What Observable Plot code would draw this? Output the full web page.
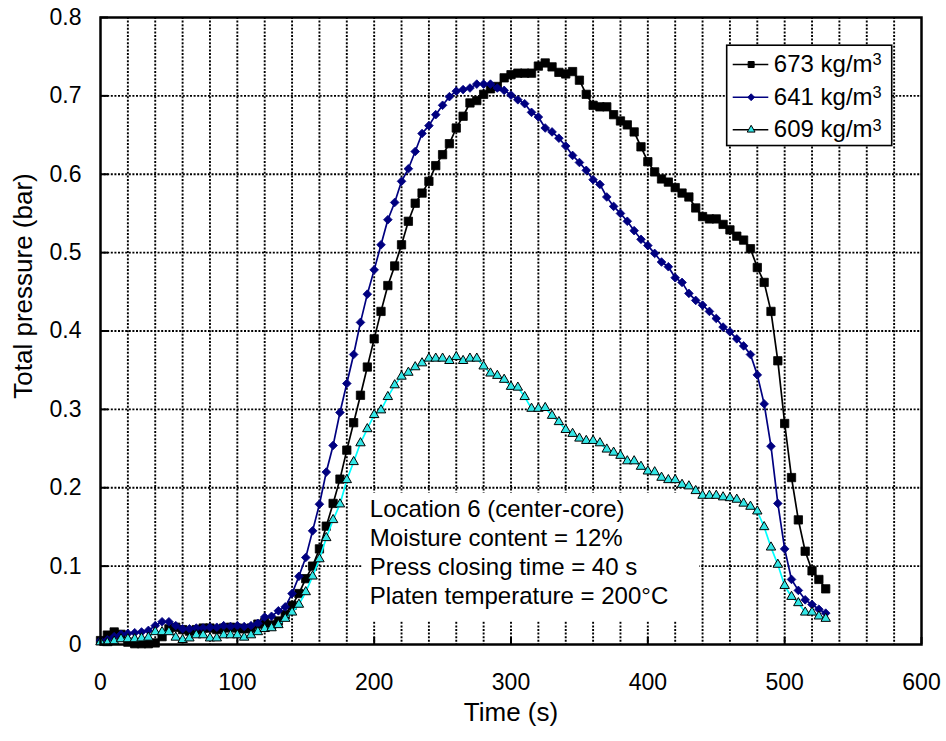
<!DOCTYPE html>
<html>
<head>
<meta charset="utf-8">
<script src="https://cdn.jsdelivr.net/npm/d3@7"></script>
<script src="https://cdn.jsdelivr.net/npm/@observablehq/plot@0.6"></script>
<style>
  html, body { margin: 0; padding: 0; background: #fff; }
  #chart svg { font-family: "Liberation Sans", Arial, sans-serif; display: block; }
</style>
</head>
<body>
<div id="chart"></div>
<script>
// ---- Data ----
const time = [
  0, 5, 10, 15, 20, 25, 30, 35, 40, 45, 50, 55, 60, 65, 70, 75, 80, 85, 90, 95,
  100, 105, 110, 115, 120, 125, 130, 135, 140, 145, 150, 155, 160, 165, 170, 175, 180, 185, 190, 195,
  200, 205, 210, 215, 220, 225, 230, 235, 240, 245, 250, 255, 260, 265, 270, 275, 280, 285, 290, 295,
  300, 305, 310, 315, 320, 325, 330, 335, 340, 345, 350, 355, 360, 365, 370, 375, 380, 385, 390, 395,
  400, 405, 410, 415, 420, 425, 430, 435, 440, 445, 450, 455, 460, 465, 470, 475, 480, 485, 490, 495,
  500, 505, 510, 515, 520, 525, 530
];

const p673 = [
  0.005, 0.012, 0.016, 0.013, 0.003, 0.001, 0.001, 0.001, 0.002, 0.010, 0.020, 0.022, 0.019, 0.017, 0.019, 0.021, 0.021, 0.019, 0.021, 0.022,
  0.021, 0.020, 0.021, 0.026, 0.028, 0.025, 0.030, 0.038, 0.050, 0.065, 0.084, 0.100, 0.122, 0.151, 0.180, 0.211, 0.248, 0.283, 0.318, 0.354,
  0.390, 0.425, 0.458, 0.483, 0.510, 0.540, 0.563, 0.576, 0.591, 0.611, 0.625, 0.639, 0.659, 0.674, 0.691, 0.694, 0.702, 0.709, 0.712, 0.723,
  0.727, 0.729, 0.729, 0.729, 0.738, 0.742, 0.737, 0.730, 0.728, 0.731, 0.720, 0.702, 0.688, 0.686, 0.686, 0.676, 0.668, 0.663, 0.654, 0.635,
  0.616, 0.603, 0.594, 0.590, 0.583, 0.576, 0.571, 0.557, 0.546, 0.543, 0.543, 0.536, 0.529, 0.521, 0.516, 0.505, 0.481, 0.462, 0.425, 0.362,
  0.282, 0.213, 0.159, 0.119, 0.094, 0.083, 0.071
];

const p641 = [
  0.005, 0.006, 0.010, 0.013, 0.014, 0.015, 0.016, 0.018, 0.024, 0.029, 0.029, 0.024, 0.020, 0.020, 0.021, 0.021, 0.022, 0.022, 0.024, 0.023,
  0.024, 0.023, 0.024, 0.027, 0.035, 0.036, 0.043, 0.048, 0.065, 0.087, 0.111, 0.145, 0.179, 0.220, 0.254, 0.296, 0.333, 0.370, 0.411, 0.447,
  0.478, 0.510, 0.542, 0.564, 0.591, 0.607, 0.629, 0.652, 0.662, 0.676, 0.688, 0.699, 0.706, 0.708, 0.710, 0.715, 0.715, 0.715, 0.710, 0.707,
  0.701, 0.695, 0.690, 0.679, 0.673, 0.659, 0.654, 0.646, 0.636, 0.624, 0.615, 0.605, 0.593, 0.587, 0.571, 0.559, 0.550, 0.540, 0.528, 0.517,
  0.509, 0.499, 0.488, 0.482, 0.468, 0.462, 0.448, 0.439, 0.433, 0.425, 0.416, 0.405, 0.399, 0.390, 0.381, 0.370, 0.344, 0.307, 0.253, 0.180,
  0.122, 0.083, 0.069, 0.057, 0.051, 0.045, 0.040
];

const p609 = [
  0.003, 0.002, 0.004, 0.007, 0.007, 0.007, 0.008, 0.009, 0.016, 0.016, 0.016, 0.009, 0.006, 0.008, 0.012, 0.012, 0.008, 0.008, 0.012, 0.012,
  0.012, 0.009, 0.012, 0.016, 0.020, 0.021, 0.025, 0.033, 0.041, 0.051, 0.067, 0.087, 0.109, 0.136, 0.159, 0.179, 0.210, 0.233, 0.257, 0.275,
  0.293, 0.299, 0.316, 0.331, 0.342, 0.347, 0.354, 0.359, 0.365, 0.365, 0.365, 0.362, 0.367, 0.362, 0.365, 0.365, 0.355, 0.346, 0.343, 0.338,
  0.329, 0.328, 0.316, 0.301, 0.301, 0.302, 0.292, 0.284, 0.274, 0.269, 0.263, 0.260, 0.260, 0.257, 0.249, 0.245, 0.241, 0.234, 0.234, 0.227,
  0.221, 0.220, 0.213, 0.210, 0.210, 0.204, 0.202, 0.196, 0.190, 0.190, 0.190, 0.188, 0.187, 0.185, 0.180, 0.176, 0.170, 0.150, 0.124, 0.102,
  0.075, 0.061, 0.053, 0.041, 0.041, 0.036, 0.033
];

const seriesNames = ["673 kg/m\u00B3", "641 kg/m\u00B3", "609 kg/m\u00B3"];
const xTickValues = [0, 100, 200, 300, 400, 500, 600];
const xGridValues = [20, 40, 60, 80, 100, 120, 140, 160, 180, 200, 220, 240, 260, 280, 300, 320, 340, 360, 380, 400, 420, 440, 460, 480, 500, 520, 540, 560, 580];
const yTickValues = [0, 0.1, 0.2, 0.3, 0.4, 0.5, 0.6, 0.7, 0.8];
const yGridValues = [0.1, 0.2, 0.3, 0.4, 0.5, 0.6, 0.7];
const noteLines = [
  "Location 6 (center-core)",
  "Moisture content = 12%",
  "Press closing time = 40 s",
  "Platen temperature = 200\u00B0C"
];
const xTitle = "Time (s)";
const yTitle = "Total pressure (bar)";

// annotation / legend placement (data units)
const noteBox = {x1: 191.5, x2: 437.8, y1: 0.029, y2: 0.193};
const notePos = {x: 196.8, y: 0.1885};
const legendBox = {x1: 458, x2: 578.6, y1: 0.636, y2: 0.764};
const legendRowsY = [0.740, 0.6983, 0.6567];
const legendLine = {x1: 462.4, x2: 488.4, marker: 475.5, text: 492.1};

// ---- Build tables ----
const styles = [
  {name: seriesNames[0], values: p673, line: "#000000", fill: "#000000", stroke: "#000000", symbol: "square", r: 4.7, legendLine: "#000000"},
  {name: seriesNames[1], values: p641, line: "#000080", fill: "#000080", stroke: "#000080", symbol: "diamond2", r: 3.9, legendLine: "#000080"},
  {name: seriesNames[2], values: p609, line: "#00FFFF", fill: "#33E6E6", stroke: "#000000", symbol: "triangle", r: 3.5, legendLine: "#000000"}
];
const tables = styles.map(s => time.map((t, i) => ({t, v: s.values[i]})));
const legendRows = styles.map((s, i) => ({...s, ly: legendRowsY[i]}));

const fmtY = v => v === 0 ? "0" : v.toFixed(1);

const seriesMarks = styles.flatMap((s, i) => [
  Plot.line(tables[i], {x: "t", y: "v", stroke: s.line, strokeWidth: 1.7}),
  Plot.dot(tables[i], {x: "t", y: "v", symbol: s.symbol, r: s.r, fill: s.fill, stroke: s.stroke, strokeWidth: s.symbol === "triangle" ? 1 : 0.8})
]);

const gridStyle = {stroke: "#000", strokeOpacity: 1, strokeWidth: 1.9, strokeDasharray: "2,1.6"};

const chart = Plot.plot({
  width: 946,
  height: 741,
  marginLeft: 100,
  marginRight: 25,
  marginTop: 17,
  marginBottom: 97,
  style: {fontFamily: "'Liberation Sans', Arial, sans-serif", fontSize: "23px", color: "#000", background: "#fff"},
  x: {domain: [0, 600]},
  y: {domain: [0, 0.8]},
  marks: [
    Plot.gridX(xGridValues, gridStyle),
    Plot.gridY(yGridValues, gridStyle),
    Plot.rect([noteBox], {x1: "x1", x2: "x2", y1: "y1", y2: "y2", fill: "white"}),
    Plot.text([noteLines.join("\n")], {x: () => notePos.x, y: () => notePos.y, textAnchor: "start", lineAnchor: "top", lineHeight: 1.2, fontSize: 24, fill: "#000"}),
    Plot.axisX({ticks: xTickValues, tickSize: 0, tickPadding: 29, label: null, fontSize: 23}),
    Plot.axisX({ticks: xTickValues, tickSize: 7, dy: -7, tickFormat: () => "", label: null, strokeWidth: 2}),
    Plot.axisY({ticks: yTickValues, tickSize: 0, tickPadding: 19, tickFormat: fmtY, label: null, fontSize: 23}),
    Plot.axisY({ticks: yTickValues, tickSize: 8, dx: 8, tickFormat: () => "", label: null, strokeWidth: 2}),
    ...seriesMarks,
    Plot.frame({stroke: "#000", strokeWidth: 2.5}),
    // legend
    Plot.rect([legendBox], {x1: "x1", x2: "x2", y1: "y1", y2: "y2", fill: "white", stroke: "#000", strokeWidth: 1.6}),
    Plot.ruleY(legendRows, {y: "ly", x1: () => legendLine.x1, x2: () => legendLine.x2, stroke: "legendLine", strokeWidth: 1.6}),
    Plot.dot(legendRows, {x: () => legendLine.marker, y: "ly", symbol: "symbol", r: "r", fill: "fill", stroke: "stroke", strokeWidth: 1}),
    Plot.text(legendRows, {x: () => legendLine.text, y: "ly", text: "name", textAnchor: "start", fontSize: 24, fill: "#000"}),
    // axis titles
    Plot.text([xTitle], {frameAnchor: "bottom", dy: 76, fontSize: 26, fill: "#000"}),
    Plot.text([yTitle], {frameAnchor: "left", textAnchor: "middle", dx: -77, dy: -45, rotate: -90, fontSize: 26, fill: "#000"})
  ]
});

// render "m³" with a real superscript 3
d3.select(chart).selectAll("text").each(function () {
  const t = this.textContent;
  if (this.childElementCount === 0 && t.endsWith("m\u00B3")) {
    this.textContent = t.slice(0, -1);
    d3.select(this).append("tspan").attr("dy", "-0.42em").style("font-size", "0.68em").text("3");
  }
});

document.getElementById("chart").appendChild(chart);
</script>
</body>
</html>
